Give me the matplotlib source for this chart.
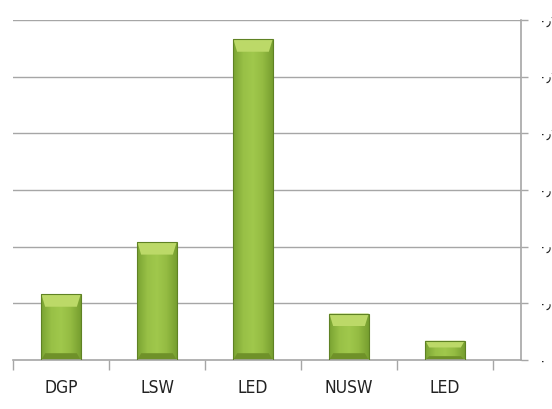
import matplotlib
matplotlib.use("Agg")
import matplotlib.pyplot as plt
import numpy as np
from matplotlib.colors import LinearSegmentedColormap

categories = ["DGP", "LSW", "LED", "NUSW", "LED"]
values = [0.058, 0.104, 0.283, 0.041, 0.017]
ytick_vals = [0, 0.05, 0.10, 0.15, 0.20, 0.25, 0.30]
ytick_labels = ["٠", "٠٫٠٥", "٠٫١", "٠٫١٥", "٠٫٢", "٠٫٢٥", "٠٫٣"]

fig = plt.figure(figsize=(5.52, 4.09), dpi=100)
ax = fig.add_axes([13/552, 1-360/409, (521-13)/552, 340/409])

grid_c = "#a6a6a6"
n = len(categories)
ax.set_xlim(-0.5, n - 0.5 + 28/96)
ax.set_ylim(0, 0.3)

for y in ytick_vals[1:]:
    ax.axhline(y, color=grid_c, lw=1.0, zorder=1)

cmap = LinearSegmentedColormap.from_list("g", ["#7aa332", "#98c046", "#a0c84c", "#94bb42", "#779f30"])
bw = 0.41
bars = ax.bar(range(n), values, width=bw, color="none", edgecolor="#5f8224", lw=0.8, zorder=3)
grad = np.linspace(0, 1, 64).reshape(1, -1)
for b, v in zip(bars, values):
    x0 = b.get_x()
    im = ax.imshow(grad, cmap=cmap, aspect="auto", extent=(x0, x0 + bw, 0, v), zorder=2)
    im.set_clip_path(b)
    top_h = min(0.011, v * 0.35)
    ax.fill([x0, x0 + bw, x0 + bw - 0.04, x0 + 0.04], [v, v, v - top_h, v - top_h],
            color="#bcd968", zorder=2.5, lw=0)
    bot_h = min(0.006, v * 0.2)
    ax.fill([x0, x0 + bw, x0 + bw - 0.04, x0 + 0.04], [0, 0, bot_h, bot_h],
            color="#6f9129", zorder=2.5, lw=0)
ax.set_xticks(range(n))
ax.set_xticklabels(categories, fontsize=12.5, color="#222222",
                   family=["DejaVu Sans"], fontstretch="condensed")
ax.tick_params(axis="x", which="major", length=0, pad=14)
ax.set_xticks(np.arange(-0.5, n, 1.0), minor=True)
ax.tick_params(axis="x", which="minor", length=7, color=grid_c, width=1, direction="out")

ax.yaxis.tick_right()
ax.set_yticks(ytick_vals)
ax.set_yticklabels(ytick_labels, fontsize=10, family=["DejaVu Sans"], color="#222222")
ax.tick_params(axis="y", length=5, color=grid_c, width=1, pad=8)

for s in ["top", "left"]:
    ax.spines[s].set_visible(False)
ax.spines["right"].set_color(grid_c)
ax.spines["bottom"].set_color(grid_c)
ax.spines["right"].set_linewidth(1.2)
ax.spines["bottom"].set_linewidth(1.2)
ax.set_facecolor("white")

fig.savefig("out.png", dpi=100)
